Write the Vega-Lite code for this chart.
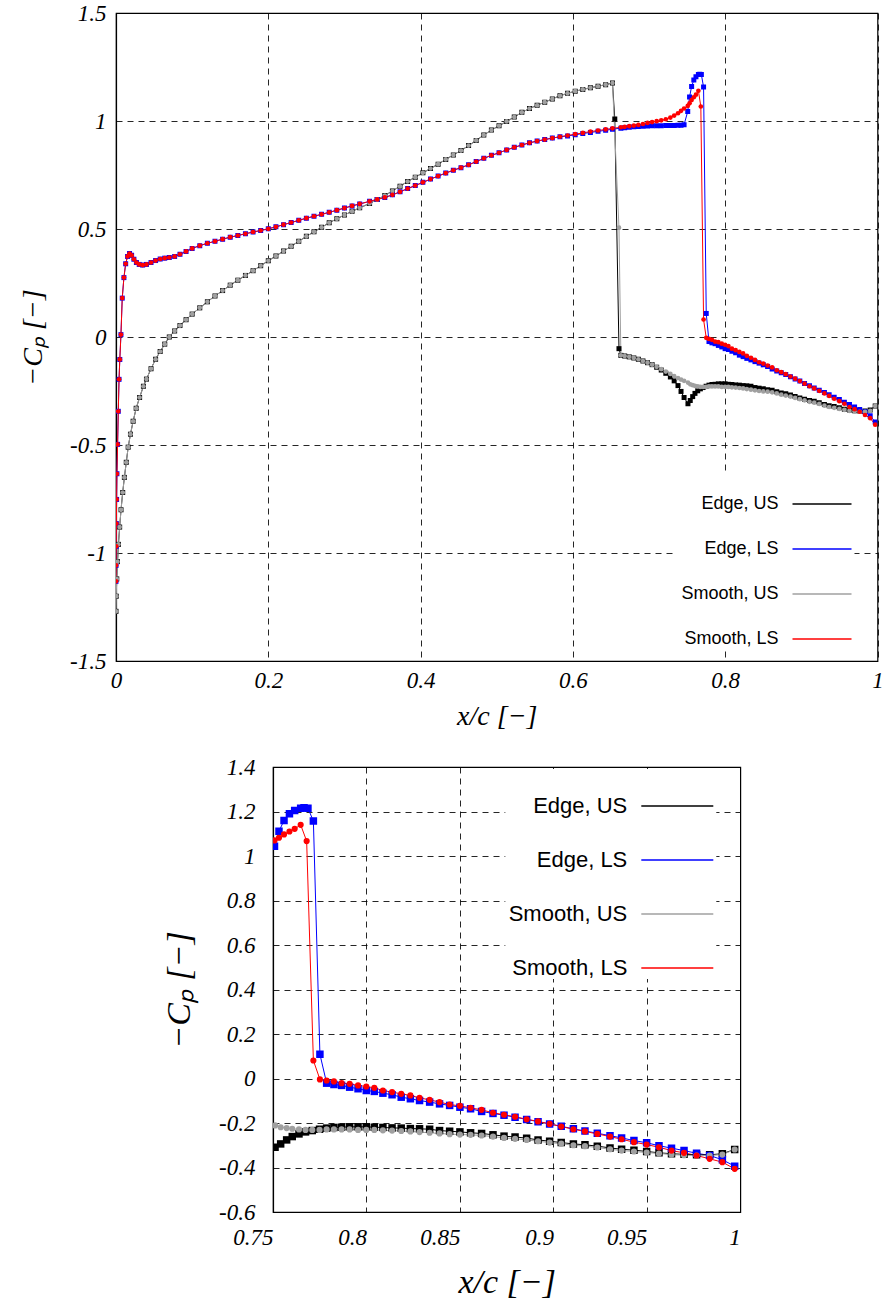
{
  "$schema": "https://vega.github.io/schema/vega-lite/v6.json",
  "background": "white",
  "padding": {"left": 18, "top": 1, "right": 0, "bottom": 0},
  "spacing": 24,
  "resolve": {"scale": {"x": "independent", "y": "independent", "color": "independent"}, "legend": {"color": "independent"}},
  "config": {
    "view": {"stroke": "#000", "strokeWidth": 1.2},
    "axis": {
      "labelFont": "Liberation Serif", "labelFontStyle": "italic", "labelFontSize": 23, "labelColor": "#000",
      "titleFont": "Liberation Serif", "titleFontStyle": "italic", "titleFontWeight": "normal", "titleColor": "#000",
      "domainColor": "#000", "domainWidth": 1.2, "ticks": false,
      "grid": true, "gridColor": "#000", "gridOpacity": 0.85, "gridDash": [6, 5], "gridWidth": 1,
      "labelFlush": false, "labelOverlap": false
    },
    "legend": {
      "labelFont": "Liberation Sans", "labelColor": "#000", "symbolType": "stroke", "symbolStrokeWidth": 1.3,
      "labelAlign": "right", "fillColor": "#ffffff", "padding": 0, "title": null
    }
  },
  "datasets": {
    "cp": [
      {"x":0.04,"EU":-0.195,"SU":-0.195,"EL":0.336,"SL":0.336},
      {"x":0.046,"EU":-0.147,"SU":-0.147,"EL":0.345,"SL":0.345},
      {"x":0.052,"EU":-0.103,"SU":-0.103,"EL":0.354,"SL":0.354},
      {"x":0.058,"EU":-0.067,"SU":-0.067,"EL":0.361,"SL":0.361},
      {"x":0.064,"EU":-0.033,"SU":-0.033,"EL":0.365,"SL":0.365},
      {"x":0.07,"EU":0.0,"SU":0.0,"EL":0.368,"SL":0.368},
      {"x":0.077,"EU":0.028,"SU":0.028,"EL":0.373,"SL":0.373},
      {"x":0.084,"EU":0.053,"SU":0.053,"EL":0.383,"SL":0.383},
      {"x":0.092,"EU":0.08,"SU":0.08,"EL":0.396,"SL":0.396},
      {"x":0.1,"EU":0.106,"SU":0.106,"EL":0.41,"SL":0.41},
      {"x":0.11,"EU":0.135,"SU":0.135,"EL":0.423,"SL":0.423},
      {"x":0.12,"EU":0.163,"SU":0.163,"EL":0.434,"SL":0.434},
      {"x":0.13,"EU":0.19,"SU":0.19,"EL":0.443,"SL":0.443},
      {"x":0.14,"EU":0.215,"SU":0.215,"EL":0.453,"SL":0.453},
      {"x":0.15,"EU":0.24,"SU":0.24,"EL":0.462,"SL":0.462},
      {"x":0.16,"EU":0.263,"SU":0.263,"EL":0.47,"SL":0.47},
      {"x":0.17,"EU":0.285,"SU":0.285,"EL":0.478,"SL":0.478},
      {"x":0.18,"EU":0.307,"SU":0.307,"EL":0.486,"SL":0.486},
      {"x":0.19,"EU":0.33,"SU":0.33,"EL":0.493,"SL":0.493},
      {"x":0.2,"EU":0.353,"SU":0.353,"EL":0.501,"SL":0.501},
      {"x":0.21,"EU":0.375,"SU":0.375,"EL":0.51,"SL":0.51},
      {"x":0.22,"EU":0.398,"SU":0.398,"EL":0.52,"SL":0.52},
      {"x":0.23,"EU":0.42,"SU":0.42,"EL":0.53,"SL":0.53},
      {"x":0.24,"EU":0.443,"SU":0.443,"EL":0.54,"SL":0.54},
      {"x":0.25,"EU":0.466,"SU":0.466,"EL":0.55,"SL":0.55},
      {"x":0.26,"EU":0.487,"SU":0.487,"EL":0.559,"SL":0.559},
      {"x":0.27,"EU":0.508,"SU":0.508,"EL":0.568,"SL":0.568},
      {"x":0.28,"EU":0.529,"SU":0.529,"EL":0.577,"SL":0.577},
      {"x":0.29,"EU":0.547,"SU":0.547,"EL":0.587,"SL":0.587},
      {"x":0.3,"EU":0.565,"SU":0.565,"EL":0.597,"SL":0.597},
      {"x":0.31,"EU":0.582,"SU":0.582,"EL":0.607,"SL":0.607},
      {"x":0.32,"EU":0.598,"SU":0.598,"EL":0.616,"SL":0.616},
      {"x":0.333,"EU":0.618,"SU":0.618,"EL":0.628,"SL":0.628},
      {"x":0.343,"EU":0.636,"SU":0.636,"EL":0.637,"SL":0.637},
      {"x":0.353,"EU":0.655,"SU":0.655,"EL":0.646,"SL":0.646},
      {"x":0.363,"EU":0.676,"SU":0.676,"EL":0.658,"SL":0.658},
      {"x":0.373,"EU":0.698,"SU":0.698,"EL":0.672,"SL":0.672},
      {"x":0.383,"EU":0.72,"SU":0.72,"EL":0.687,"SL":0.687},
      {"x":0.393,"EU":0.74,"SU":0.74,"EL":0.701,"SL":0.701},
      {"x":0.403,"EU":0.76,"SU":0.76,"EL":0.716,"SL":0.716},
      {"x":0.413,"EU":0.78,"SU":0.78,"EL":0.731,"SL":0.731},
      {"x":0.423,"EU":0.8,"SU":0.8,"EL":0.745,"SL":0.745},
      {"x":0.433,"EU":0.822,"SU":0.822,"EL":0.759,"SL":0.759},
      {"x":0.443,"EU":0.843,"SU":0.843,"EL":0.772,"SL":0.772},
      {"x":0.453,"EU":0.863,"SU":0.863,"EL":0.784,"SL":0.784},
      {"x":0.463,"EU":0.886,"SU":0.886,"EL":0.797,"SL":0.797},
      {"x":0.473,"EU":0.91,"SU":0.91,"EL":0.812,"SL":0.812},
      {"x":0.483,"EU":0.935,"SU":0.935,"EL":0.827,"SL":0.827},
      {"x":0.493,"EU":0.958,"SU":0.958,"EL":0.841,"SL":0.841},
      {"x":0.503,"EU":0.978,"SU":0.978,"EL":0.853,"SL":0.853},
      {"x":0.513,"EU":0.998,"SU":0.998,"EL":0.866,"SL":0.866},
      {"x":0.523,"EU":1.018,"SU":1.018,"EL":0.878,"SL":0.878},
      {"x":0.533,"EU":1.04,"SU":1.04,"EL":0.889,"SL":0.889},
      {"x":0.543,"EU":1.058,"SU":1.058,"EL":0.899,"SL":0.899},
      {"x":0.553,"EU":1.073,"SU":1.073,"EL":0.907,"SL":0.907},
      {"x":0.563,"EU":1.087,"SU":1.087,"EL":0.914,"SL":0.914},
      {"x":0.573,"EU":1.102,"SU":1.102,"EL":0.921,"SL":0.921},
      {"x":0.583,"EU":1.117,"SU":1.117,"EL":0.927,"SL":0.927},
      {"x":0.593,"EU":1.128,"SU":1.128,"EL":0.931,"SL":0.933},
      {"x":0.603,"EU":1.138,"SU":1.138,"EL":0.936,"SL":0.939},
      {"x":0.613,"EU":1.146,"SU":1.146,"EL":0.942,"SL":0.945},
      {"x":0.623,"EU":1.154,"SU":1.154,"EL":0.947,"SL":0.951},
      {"x":0.633,"EU":1.161,"SU":1.161,"EL":0.952,"SL":0.956},
      {"x":0.643,"EU":1.168,"SU":1.168,"EL":0.957,"SL":0.961},
      {"x":0.652,"EU":1.176,"SU":1.176,"EL":0.962,"SL":0.966},
      {"x":0.655,"EU":1.009},
      {"x":0.6605,"EU":-0.054,"SU":0.506},
      {"x":0.663,"EU":-0.085,"SU":-0.085,"EL":0.967,"SL":0.971},
      {"x":0.668,"EU":-0.088,"SU":-0.088,"EL":0.969,"SL":0.973},
      {"x":0.674,"EU":-0.092,"SU":-0.092,"EL":0.971,"SL":0.976},
      {"x":0.68,"EU":-0.097,"SU":-0.097,"EL":0.973,"SL":0.979},
      {"x":0.686,"EU":-0.103,"SU":-0.103,"EL":0.975,"SL":0.982},
      {"x":0.692,"EU":-0.111,"SU":-0.111,"EL":0.976,"SL":0.986},
      {"x":0.698,"EU":-0.119,"SU":-0.119,"EL":0.977,"SL":0.991},
      {"x":0.704,"EU":-0.128,"SU":-0.128,"EL":0.978,"SL":0.995},
      {"x":0.71,"EU":-0.14,"SU":-0.138,"EL":0.978,"SL":0.999},
      {"x":0.716,"EU":-0.153,"SU":-0.149,"EL":0.978,"SL":1.003},
      {"x":0.722,"EU":-0.168,"SU":-0.16,"EL":0.979,"SL":1.008},
      {"x":0.728,"EU":-0.185,"SU":-0.171,"EL":0.979,"SL":1.016},
      {"x":0.733,"EU":-0.203,"SU":-0.181,"EL":0.979,"SL":1.025},
      {"x":0.738,"EU":-0.225,"SU":-0.19,"EL":0.98,"SL":1.036},
      {"x":0.742,"EU":-0.252,"SU":-0.197,"EL":0.98,"SL":1.047},
      {"x":0.746,"EU":-0.28,"SU":-0.203,"EL":0.983,"SL":1.058},
      {"x":0.7508,"EL":1.044,"SL":1.07},
      {"x":0.7511,"EU":-0.309,"SU":-0.211},
      {"x":0.7532,"EL":1.111,"SL":1.082},
      {"x":0.7541,"EU":-0.294,"SU":-0.219},
      {"x":0.7559,"EL":1.16,"SL":1.097},
      {"x":0.7573,"EU":-0.276,"SU":-0.223},
      {"x":0.7588,"EL":1.19,"SL":1.11},
      {"x":0.7603,"EU":-0.261,"SU":-0.226},
      {"x":0.7616,"EL":1.205,"SL":1.122},
      {"x":0.7639,"EU":-0.249,"SU":-0.229},
      {"x":0.7648,"EL":1.215,"SL":1.14},
      {"x":0.7666,"EL":1.217},
      {"x":0.7674,"EU":-0.24,"SU":-0.231},
      {"x":0.768,"SL":1.067},
      {"x":0.7687,"EL":1.215},
      {"x":0.771,"EU":-0.234,"SU":-0.231},
      {"x":0.7716,"EL":1.157,"SL":0.081},
      {"x":0.7749,"EU":-0.228,"SU":-0.231},
      {"x":0.7751,"EL":0.109,"SL":-0.004},
      {"x":0.7787,"EU":-0.223,"EL":-0.021,"SU":-0.229,"SL":-0.009},
      {"x":0.7826,"EU":-0.22,"EL":-0.027,"SU":-0.229,"SL":-0.013},
      {"x":0.7867,"EU":-0.219,"EL":-0.031,"SU":-0.229,"SL":-0.021},
      {"x":0.791,"EU":-0.217,"EL":-0.039,"SU":-0.229,"SL":-0.024},
      {"x":0.7955,"EU":-0.217,"EL":-0.046,"SU":-0.231,"SL":-0.031},
      {"x":0.7999,"EU":-0.217,"EL":-0.054,"SU":-0.231,"SL":-0.036},
      {"x":0.8042,"EU":-0.219,"EL":-0.058,"SU":-0.231,"SL":-0.042},
      {"x":0.8088,"EU":-0.22,"EL":-0.066,"SU":-0.233,"SL":-0.054},
      {"x":0.8137,"EU":-0.222,"EL":-0.073,"SU":-0.234,"SL":-0.061},
      {"x":0.8186,"EU":-0.223,"EL":-0.084,"SU":-0.236,"SL":-0.069},
      {"x":0.8235,"EU":-0.225,"EL":-0.091,"SU":-0.238,"SL":-0.076},
      {"x":0.8284,"EU":-0.226,"EL":-0.099,"SU":-0.241,"SL":-0.087},
      {"x":0.8338,"EU":-0.228,"EL":-0.106,"SU":-0.244,"SL":-0.096},
      {"x":0.8391,"EU":-0.234,"EL":-0.114,"SU":-0.247,"SL":-0.106},
      {"x":0.8445,"EU":-0.237,"EL":-0.121,"SU":-0.25,"SL":-0.117},
      {"x":0.85,"EU":-0.24,"EL":-0.129,"SU":-0.252,"SL":-0.123},
      {"x":0.8557,"EU":-0.244,"EL":-0.136,"SU":-0.253,"SL":-0.132},
      {"x":0.8616,"EU":-0.247,"EL":-0.148,"SU":-0.256,"SL":-0.141},
      {"x":0.8677,"EU":-0.253,"EL":-0.157,"SU":-0.261,"SL":-0.154},
      {"x":0.8736,"EU":-0.259,"EL":-0.165,"SU":-0.267,"SL":-0.163},
      {"x":0.8795,"EU":-0.263,"EL":-0.174,"SU":-0.271,"SL":-0.172},
      {"x":0.8857,"EU":-0.268,"EL":-0.184,"SU":-0.276,"SL":-0.183},
      {"x":0.8918,"EU":-0.276,"EL":-0.194,"SU":-0.282,"SL":-0.193},
      {"x":0.898,"EU":-0.282,"EL":-0.204,"SU":-0.288,"SL":-0.204},
      {"x":0.9042,"EU":-0.288,"EL":-0.215,"SU":-0.293,"SL":-0.216},
      {"x":0.9107,"EU":-0.294,"EL":-0.226,"SU":-0.3,"SL":-0.228},
      {"x":0.9169,"EU":-0.298,"EL":-0.236,"SU":-0.304,"SL":-0.238},
      {"x":0.9235,"EU":-0.304,"EL":-0.246,"SU":-0.31,"SL":-0.249},
      {"x":0.9303,"EU":-0.312,"EL":-0.257,"SU":-0.318,"SL":-0.261},
      {"x":0.9365,"EU":-0.318,"EL":-0.267,"SU":-0.324,"SL":-0.273},
      {"x":0.9431,"EU":-0.322,"EL":-0.279,"SU":-0.328,"SL":-0.286},
      {"x":0.9499,"EU":-0.328,"EL":-0.289,"SU":-0.333,"SL":-0.297},
      {"x":0.9565,"EU":-0.334,"EL":-0.302,"SU":-0.337,"SL":-0.309},
      {"x":0.9632,"EU":-0.338,"EL":-0.313,"SU":-0.342,"SL":-0.324},
      {"x":0.9699,"EU":-0.341,"EL":-0.324,"SU":-0.345,"SL":-0.334},
      {"x":0.9766,"EU":-0.343,"EL":-0.336,"SU":-0.346,"SL":-0.346},
      {"x":0.9836,"EU":-0.343,"EL":-0.346,"SU":-0.346,"SL":-0.361},
      {"x":0.9904,"EU":-0.338,"EL":-0.365,"SU":-0.342,"SL":-0.376},
      {"x":0.997,"EU":-0.319,"EL":-0.394,"SU":-0.319,"SL":-0.406},
      {"x":0,"EL":-1.131,"SL":-1.131},
      {"x":0.0001,"EL":-1.057,"SL":-1.057},
      {"x":0.0003,"EL":-0.969,"SL":-0.969},
      {"x":0.0005,"EL":-0.864,"SL":-0.864},
      {"x":0.0008,"EL":-0.752,"SL":-0.752},
      {"x":0.0012,"EL":-0.633,"SL":-0.633},
      {"x":0.0021,"EL":-0.497,"SL":-0.497},
      {"x":0.003,"EL":-0.344,"SL":-0.344},
      {"x":0.004,"EL":-0.196,"SL":-0.196},
      {"x":0.005,"EL":-0.104,"SL":-0.104},
      {"x":0.0065,"EL":0.011,"SL":0.011},
      {"x":0.0082,"EL":0.18,"SL":0.18},
      {"x":0.0104,"EL":0.275,"SL":0.275},
      {"x":0.0127,"EL":0.339,"SL":0.339},
      {"x":0.0152,"EL":0.373,"SL":0.373},
      {"x":0.0178,"EL":0.386,"SL":0.386},
      {"x":0.0205,"EL":0.378,"SL":0.378},
      {"x":0.0235,"EL":0.36,"SL":0.36},
      {"x":0.0268,"EL":0.345,"SL":0.345},
      {"x":0.0305,"EL":0.336,"SL":0.336},
      {"x":0.035,"EL":0.333,"SL":0.333},
      {"x":0,"EU":-1.27,"SU":-1.27},
      {"x":0.0003,"EU":-1.2,"SU":-1.2},
      {"x":0.001,"EU":-1.12,"SU":-1.12},
      {"x":0.002,"EU":-1.04,"SU":-1.04},
      {"x":0.0032,"EU":-0.96,"SU":-0.96},
      {"x":0.0048,"EU":-0.88,"SU":-0.88},
      {"x":0.0066,"EU":-0.8,"SU":-0.8},
      {"x":0.0088,"EU":-0.72,"SU":-0.72},
      {"x":0.011,"EU":-0.65,"SU":-0.65},
      {"x":0.0135,"EU":-0.58,"SU":-0.58},
      {"x":0.016,"EU":-0.51,"SU":-0.51},
      {"x":0.019,"EU":-0.45,"SU":-0.45},
      {"x":0.0225,"EU":-0.39,"SU":-0.39},
      {"x":0.0265,"EU":-0.33,"SU":-0.33},
      {"x":0.031,"EU":-0.28,"SU":-0.28},
      {"x":0.036,"EU":-0.228,"SU":-0.228}
    ]
  },
  "vconcat": [
    {
      "width": 761.5,
      "height": 648,
      "data": {"name": "cp"},
      "transform": [
        {"fold": ["EU", "EL", "SU", "SL"], "as": ["series", "cp"]},
        {"filter": "isValid(datum.cp)"}
      ],
      "encoding": {
        "x": {"field": "x", "type": "quantitative", "scale": {"domain": [0, 1], "nice": false, "zero": false},
          "axis": {"values": [0, 0.2, 0.4, 0.6, 0.8, 1], "labelExpr": "toString(datum.value)", "title": "x/c [−]", "titleFontSize": 28, "labelPadding": 8, "titlePadding": 10}},
        "y": {"field": "cp", "type": "quantitative", "scale": {"domain": [-1.5, 1.5], "nice": false, "zero": false},
          "axis": {"values": [-1.5, -1, -0.5, 0, 0.5, 1, 1.5], "labelExpr": "toString(datum.value)", "title": "−Cₚ [−]", "titleFontSize": 28, "labelPadding": 10, "titlePadding": 22}}
      },
      "layer": [
        {
          "mark": {"type": "line", "strokeWidth": 1, "clip": true},
          "encoding": {
            "color": {"field": "series", "type": "nominal",
              "scale": {"domain": ["EU", "EL", "SU", "SL"], "range": ["#000000", "#0000ff", "#a0a0a0", "#ff0000"]},
              "legend": {"orient": "none", "legendX": 560.5, "legendY": 460.5, "symbolSize": 3481, "rowPadding": 5, "labelOffset": -74, "symbolOffset": 115, "labelFontSize": 18,
                "labelExpr": "datum.label == 'EU' ? 'Edge, US' : datum.label == 'EL' ? 'Edge, LS' : datum.label == 'SU' ? 'Smooth, US' : 'Smooth, LS'"}}
          }
        },
        {"transform": [{"filter": "datum.series == 'EU'"}], "mark": {"type": "square", "size": 25, "color": "#000000", "opacity": 1, "clip": true}},
        {"transform": [{"filter": "datum.series == 'EL'"}], "mark": {"type": "square", "size": 25, "color": "#0000ff", "opacity": 1, "clip": true}},
        {"transform": [{"filter": "datum.series == 'SU'"}], "mark": {"type": "circle", "size": 22, "color": "#a0a0a0", "opacity": 1, "clip": true}},
        {"transform": [{"filter": "datum.series == 'SL'"}], "mark": {"type": "circle", "size": 22, "color": "#ff0000", "opacity": 1, "clip": true}}
      ]
    },
    {
      "spacing": 0,
      "hconcat": [
        {
          "width": 45,
          "height": 10,
          "view": {"stroke": null},
          "data": {"values": [{"t": ""}]},
          "mark": {"type": "text", "text": ""},
          "encoding": {}
        },
        {
          "width": 467.3,
          "height": 445,
          "data": {"name": "cp"},
          "transform": [
            {"filter": "datum.x >= 0.75"},
            {"fold": ["EU", "EL", "SU", "SL"], "as": ["series", "cp"]},
            {"filter": "isValid(datum.cp)"}
          ],
          "encoding": {
            "x": {"field": "x", "type": "quantitative", "scale": {"domain": [0.75, 1], "nice": false, "zero": false},
              "axis": {"values": [0.75, 0.8, 0.85, 0.9, 0.95, 1], "labelExpr": "toString(datum.value)", "labelAlign": "right", "labelDx": 3, "title": "x/c [−]", "titleFontSize": 34, "labelPadding": 14, "titlePadding": 16}},
            "y": {"field": "cp", "type": "quantitative", "scale": {"domain": [-0.6, 1.4], "nice": false, "zero": false},
              "axis": {"values": [-0.6, -0.4, -0.2, 0, 0.2, 0.4, 0.6, 0.8, 1, 1.2, 1.4], "labelExpr": "toString(datum.value)", "title": "−Cₚ [−]", "titleFontSize": 34, "labelPadding": 18, "titlePadding": 22}}
          },
          "layer": [
            {
              "mark": {"type": "line", "strokeWidth": 1, "clip": true},
              "encoding": {
                "color": {"field": "series", "type": "nominal",
                  "scale": {"domain": ["EU", "EL", "SU", "SL"], "range": ["#000000", "#0000ff", "#a0a0a0", "#ff0000"]},
                  "legend": {"orient": "none", "legendX": 389.3, "legendY": 2, "symbolSize": 5184, "rowPadding": 6, "labelOffset": -87, "symbolOffset": 135, "labelFontSize": 22,
                    "labelExpr": "datum.label == 'EU' ? 'Edge, US' : datum.label == 'EL' ? 'Edge, LS' : datum.label == 'SU' ? 'Smooth, US' : 'Smooth, LS'"}}
              }
            },
            {"transform": [{"filter": "datum.series == 'EU'"}], "mark": {"type": "square", "size": 56, "color": "#000000", "opacity": 1, "clip": true}},
            {"transform": [{"filter": "datum.series == 'EL'"}], "mark": {"type": "square", "size": 56, "color": "#0000ff", "opacity": 1, "clip": true}},
            {"transform": [{"filter": "datum.series == 'SU'"}], "mark": {"type": "circle", "size": 38, "color": "#a0a0a0", "opacity": 1, "clip": true}},
            {"transform": [{"filter": "datum.series == 'SL'"}], "mark": {"type": "circle", "size": 38, "color": "#ff0000", "opacity": 1, "clip": true}}
          ]
        }
      ]
    }
  ]
}
